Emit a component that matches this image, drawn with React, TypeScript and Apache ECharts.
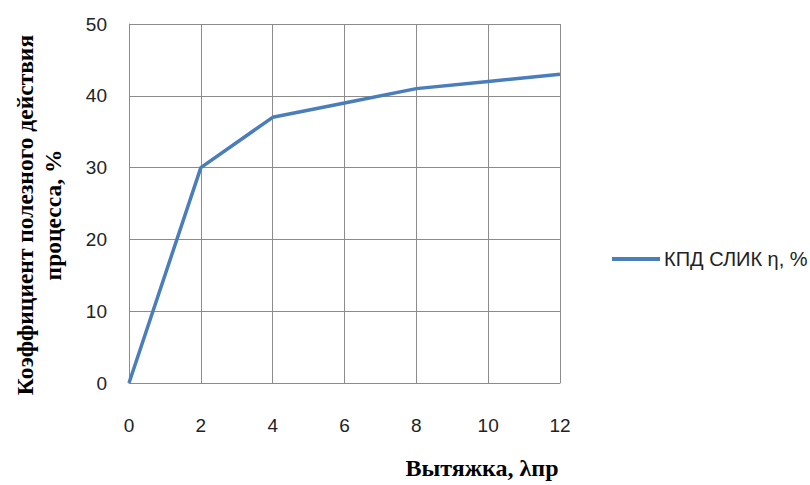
import React, { useEffect, useRef } from "react";
import * as echarts from "echarts";

const xValues = [0, 2, 4, 6, 8, 10, 12];
const etaValues = [0, 30, 37, 39, 41, 42, 43];
const seriesName = "КПД СЛИК η, %";
const xTitle = "Вытяжка, λпр";
const yTitleLines = ["Коэффициент полезного действия", "процесса, %"];

export default function App() {
  const ref = useRef<HTMLDivElement>(null);
  useEffect(() => {
    if (!ref.current) return;
    const chart = echarts.init(ref.current, null, { renderer: "svg" });
    const gridColor = "#8c8c8c";
    chart.setOption({
      animation: false,
      backgroundColor: "#ffffff",
      grid: { left: 129, top: 24, width: 431, height: 359 },
      xAxis: {
        type: "value",
        min: 0,
        max: 12,
        interval: 2,
        axisLine: { show: true, lineStyle: { color: gridColor, width: 1 } },
        axisTick: { show: false },
        splitLine: { show: true, lineStyle: { color: gridColor, width: 1 } },
        axisLabel: { margin: 33, fontSize: 19, color: "#222", fontFamily: "Liberation Sans" },
      },
      yAxis: {
        type: "value",
        min: 0,
        max: 50,
        interval: 10,
        axisLine: { show: true, lineStyle: { color: gridColor, width: 1 } },
        axisTick: { show: false },
        splitLine: { show: true, lineStyle: { color: gridColor, width: 1 } },
        axisLabel: { margin: 22, fontSize: 19, color: "#222", fontFamily: "Liberation Sans" },
      },
      legend: {
        left: 607,
        top: 244,
        icon: "rect",
        itemWidth: 48,
        itemHeight: 4,
        itemGap: 6,
        textStyle: { fontSize: 20, color: "#222", fontFamily: "Liberation Sans", padding: [0, 0, 0, -1] },
        data: [seriesName],
      },
      series: [
        {
          name: seriesName,
          type: "line",
          data: xValues.map((x, i) => [x, etaValues[i]]),
          symbol: "none",
          lineStyle: { color: "#4a7ebb", width: 3.5 },
          itemStyle: { color: "#4a7ebb" },
        },
      ],
      graphic: [
        {
          type: "text",
          x: 482,
          y: 468,
          style: {
            text: xTitle,
            fontFamily: "Liberation Serif",
            fontWeight: "bold",
            fontSize: 24,
            fill: "#000",
            align: "center",
            verticalAlign: "middle",
          },
        },
        {
          type: "text",
          x: 39,
          y: 215,
          rotation: Math.PI / 2,
          style: {
            text: yTitleLines.join("\n"),
            fontFamily: "Liberation Serif",
            fontWeight: "bold",
            fontSize: 23.5,
            lineHeight: 28,
            fill: "#000",
            align: "center",
            verticalAlign: "middle",
          },
        },
      ],
    });
    return () => chart.dispose();
  }, []);
  return <div ref={ref} style={{ width: 810, height: 485, position: "absolute", left: 0, top: 0 }} />;
}
